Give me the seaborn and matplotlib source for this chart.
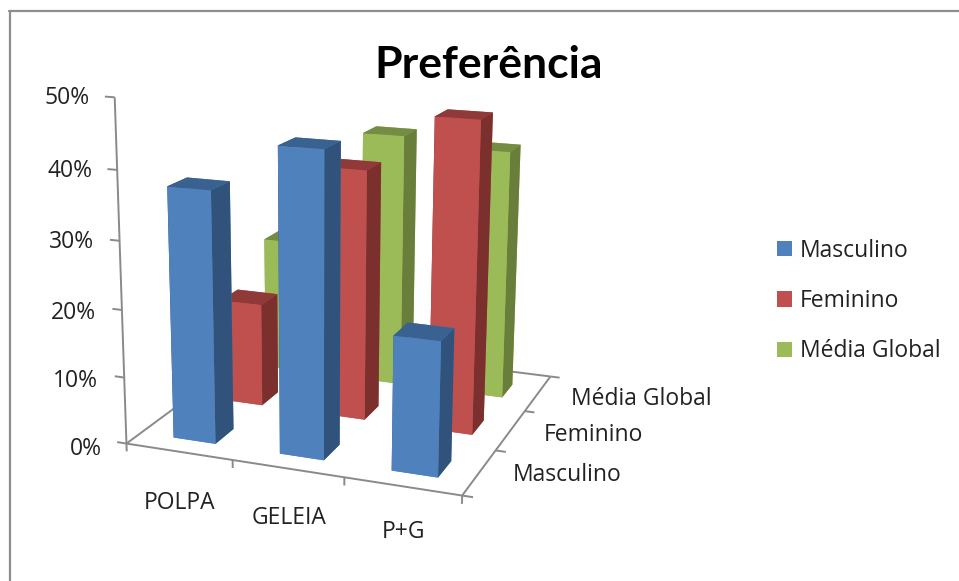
import matplotlib
matplotlib.use("Agg")
import matplotlib.pyplot as plt
from matplotlib.lines import Line2D
from matplotlib.patches import Patch
import seaborn as sns

categories = ["POLPA", "GELEIA", "P+G"]
series = ["Masculino", "Feminino", "Média Global"]
masculino = [37.2, 44.2, 19.5]
feminino = [16, 38, 46.5]
media_global = [21.5, 40, 38.8]
percent_ticks = [0, 10, 20, 30, 40, 50]

front_colors = ["#4F81BD", "#C0504D", "#9BBB59"]
top_colors = ["#3A6290", "#8F3A38", "#748D42"]
side_colors = ["#30527B", "#7B302E", "#687E3A"]
axis_color = "#8A8A8A"
text_color = "#222222"

W, H = 959, 581
sns.set_theme(style="white")
plt.rcParams["font.family"] = ["Open Sans", "DejaVu Sans"]

fig = plt.figure(figsize=(W / 100, H / 100), dpi=100, facecolor="white")


def fx(px):
    return px / W


def fy(py):
    return 1 - py / H


# Square 3D viewport placed so the floor of the box sits in the lower left
ax = fig.add_axes([fx(60.58), fy(540.98), 567.76 / W, 567.76 / H],
                  projection="3d", computed_zorder=False)
ax.set_xlim(0, 3)
ax.set_ylim(0, 3)
ax.set_zlim(0, 50)
ax.view_init(elev=15.05, azim=-69.68, roll=-0.35)
ax.set_proj_type("persp", focal_length=0.5086)
ax.set_box_aspect((1, 1, 1))
ax.set_axis_off()
ax.patch.set_alpha(0)

# Axis frame on the floor and the value axis
line = dict(color=axis_color, lw=1.4, zorder=1, solid_capstyle="butt")
ax.plot([0, 3], [0, 0], [0, 0], **line)
ax.plot([3, 3], [0, 3], [0, 0], **line)
ax.plot([0, 3], [3, 3], [0, 0], **line)
ax.plot([0, 0], [0, 3], [0, 0], **line)
ax.plot([0, 0], [0, 0], [0, 50], **line)

# Tick marks
for z in percent_ticks:
    ax.plot([-0.09, 0], [0, 0], [z, z], **line)
for i in range(len(categories) + 1):
    ax.plot([i, i], [0, 0], [-1.2, 0], **line)
for j in range(len(series) + 1):
    ax.plot([3, 3.09], [j, j], [0, 0], **line)

# One cuboid per value, painted back row first and left to right
values = [masculino, feminino, media_global]
order = 2
for j in reversed(range(len(series))):
    for i in range(len(categories)):
        faces = [front_colors[j], top_colors[j], front_colors[j],
                 front_colors[j], side_colors[j], side_colors[j]]
        ax.bar3d(i + 0.315, j + 0.27, 0, 0.40, 0.37, values[j][i],
                 color=faces, shade=False, linewidth=0, zorder=order)
        order += 1

label_size = 16.5

# Value labels
value_right = [102, 98, 96, 94, 92, 90]
value_y = [449, 381, 313, 242, 171, 98]
for v, r, y in zip(percent_ticks, value_right, value_y):
    fig.text(fx(r), fy(y), f"{v}%", ha="right", va="center",
             fontsize=label_size, color=text_color)

# Category and series labels beside the floor
for name, x, y in zip(categories, [180, 289, 403], [503, 518, 532]):
    fig.text(fx(x), fy(y), name, ha="center", va="center",
             fontsize=label_size, color=text_color)
for name, x, y in zip(series, [513, 544, 571], [475, 435, 399]):
    fig.text(fx(x), fy(y), name, ha="left", va="center",
             fontsize=label_size, color=text_color)

fig.text(fx(489), fy(65), "Preferência", ha="center", va="center",
         fontsize=32, fontweight="bold", color="black", family="Lato")

handles = [Patch(facecolor=c, edgecolor="none") for c in front_colors]
fig.legend(handles, series, loc="center left",
           bbox_to_anchor=(fx(777), fy(301)), frameon=False, fontsize=label_size,
           handlelength=0.66, handleheight=0.66, handletextpad=0.35,
           labelspacing=1.15, labelcolor=text_color, borderpad=0, borderaxespad=0)

# Chart frame, open on the right and at the bottom
fig.add_artist(Line2D([fx(9.5), fx(9.5)], [0, fy(11)], color="#8E8E8E", lw=1.6))
fig.add_artist(Line2D([fx(9), 1], [fy(11), fy(11)], color="#8E8E8E", lw=1.6))

fig.savefig("out.png", dpi=100)
